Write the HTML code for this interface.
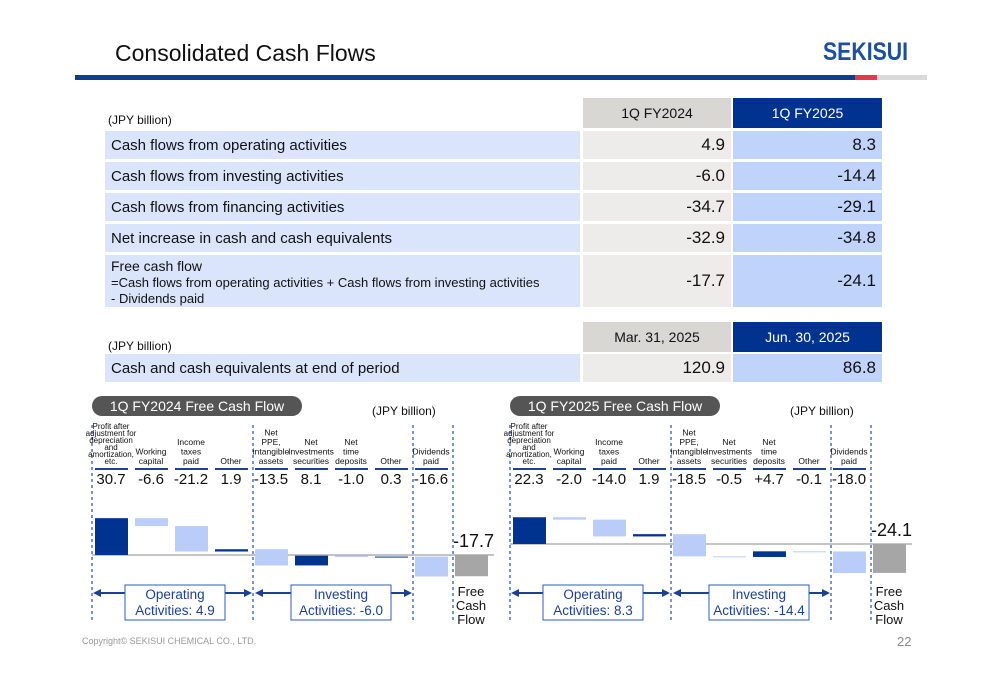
<!DOCTYPE html>
<html><head><meta charset="utf-8">
<style>
*{margin:0;padding:0;box-sizing:border-box}
body{width:1000px;height:685px;background:#fff;font-family:"Liberation Sans",Arial,sans-serif;position:relative;overflow:hidden;color:#111}
.abs{position:absolute}
.lbl{position:absolute;left:105px;width:475px;background:#dae4fb;font-size:15px;padding-left:6px;display:flex;align-items:center}
.c1{position:absolute;left:583px;width:148px;background:#edecea;font-size:17px;text-align:right;padding-right:6px;display:flex;align-items:center;justify-content:flex-end}
.c2{position:absolute;left:733px;width:149px;background:#c0d3fb;font-size:17px;padding-right:6px;display:flex;align-items:center;justify-content:flex-end}
.h1{position:absolute;left:583px;width:148px;background:#d9d7d3;font-size:14px;text-align:center;padding-top:7px}
.h2{position:absolute;left:733px;width:149px;background:#003390;color:#fff;font-size:14px;text-align:center;padding-top:7px}
</style></head><body>
<div class="abs" style="left:115px;top:40px;font-size:23px">Consolidated Cash Flows</div>
<div class="abs" style="left:823px;top:38px;font-size:25px;font-weight:bold;color:#1d4f9e;letter-spacing:0px;transform:scaleX(0.85);transform-origin:left">SEKISUI</div>
<div class="abs" style="left:75px;top:75px;width:780px;height:5px;background:#123a8f"></div>
<div class="abs" style="left:855px;top:75px;width:22px;height:5px;background:#e8384f"></div>
<div class="abs" style="left:877px;top:75px;width:50px;height:5px;background:#d9d9d9"></div>

<div class="abs" style="left:108px;top:113px;font-size:12px">(JPY billion)</div>
<div class="h1" style="top:98px;height:30px">1Q FY2024</div>
<div class="h2" style="top:98px;height:30px">1Q FY2025</div>

<div class="lbl" style="top:131px;height:28px">Cash flows from operating activities</div>
<div class="c1" style="top:131px;height:28px">4.9</div>
<div class="c2" style="top:131px;height:28px">8.3</div>
<div class="lbl" style="top:162px;height:28px">Cash flows from investing activities</div>
<div class="c1" style="top:162px;height:28px">-6.0</div>
<div class="c2" style="top:162px;height:28px">-14.4</div>
<div class="lbl" style="top:193px;height:28px">Cash flows from financing activities</div>
<div class="c1" style="top:193px;height:28px">-34.7</div>
<div class="c2" style="top:193px;height:28px">-29.1</div>
<div class="lbl" style="top:224px;height:28px">Net increase in cash and cash equivalents</div>
<div class="c1" style="top:224px;height:28px">-32.9</div>
<div class="c2" style="top:224px;height:28px">-34.8</div>
<div class="lbl" style="top:255px;height:52px;display:block;padding-top:3px;line-height:16px"><span style="font-size:14px">Free cash flow</span><br><span style="font-size:13px">=Cash flows from operating activities + Cash flows from investing activities<br>- Dividends paid</span></div>
<div class="c1" style="top:255px;height:52px">-17.7</div>
<div class="c2" style="top:255px;height:52px">-24.1</div>

<div class="abs" style="left:108px;top:339px;font-size:12px">(JPY billion)</div>
<div class="h1" style="top:322px;height:30px">Mar. 31, 2025</div>
<div class="h2" style="top:322px;height:30px">Jun. 30, 2025</div>
<div class="lbl" style="top:354px;height:28px">Cash and cash equivalents at end of period</div>
<div class="c1" style="top:354px;height:28px">120.9</div>
<div class="c2" style="top:354px;height:28px">86.8</div>

<svg class="abs" style="left:0;top:0" width="1000" height="685" id="charts"></svg>

<div class="abs" style="left:82px;top:636px;font-size:9px;color:#999">Copyright© SEKISUI CHEMICAL CO., LTD.</div>
<div class="abs" style="left:897px;top:634px;font-size:13px;color:#888">22</div>

<script>
const categories = [["Profit after","adjustment for","depreciation","and","amortization,","etc."],["Working","capital"],["Income","taxes","paid"],["Other"],["Net","PPE,","intangible","assets"],["Net","Investments","securities"],["Net","time","deposits"],["Other"],["Dividends","paid"]];
const values2024 = [30.7,-6.6,-21.2,1.9,-13.5,8.1,-1.0,0.3,-16.6];
const values2025 = [22.3,-2.0,-14.0,1.9,-18.5,-0.5,4.7,-0.1,-18.0];
const labels2024 = ["30.7","-6.6","-21.2","1.9","-13.5","8.1","-1.0","0.3","-16.6"];
const labels2025 = ["22.3","-2.0","-14.0","1.9","-18.5","-0.5","+4.7","-0.1","-18.0"];
const fcf2024 = -17.7, fcf2025 = -24.1;
const opTotals = [4.9, 8.3], invTotals = [-6.0, -14.4];
const titles = ["1Q FY2024 Free Cash Flow","1Q FY2025 Free Cash Flow"];

const NS="http://www.w3.org/2000/svg";
const svg=document.getElementById('charts');
function mk(tag,attrs,parent){const e=document.createElementNS(NS,tag);for(const k in attrs)e.setAttribute(k,attrs[k]);(parent||svg).appendChild(e);return e;}

function drawChart(ox,baseY,vals,labs,fcf,op,inv,title,idx){
  const g=mk('g',{});
  
  
  const sc=1.2;
  const y=v=>baseY-v*sc;
  const xb=i=>ox+3+40*i;
  // title pill
  const pill=mk('rect',{x:ox,y:396,width:210,height:20,rx:10,fill:'#555'},g);
  
  
  const tt=mk('text',{x:ox+105,y:411,'text-anchor':'middle','font-size':14,fill:'#fff'},g);tt.textContent=title;
  
  
  const ut=mk('text',{x:ox+280,y:415,'font-size':12,fill:'#111'},g);ut.textContent='(JPY billion)';
  
  
  // dashed lines
  [0,161,321,361].forEach(dx=>{
    const l=mk('line',{x1:ox+dx,x2:ox+dx,y1:425,y2:622,stroke:'#2d5bbf','stroke-width':1.3,'stroke-dasharray':'3,3'},g);
    
    
  });
  // baseline
  const bl=mk('line',{x1:ox,x2:ox+402,y1:baseY,y2:baseY,stroke:'#888','stroke-width':1},g);
  
  
  let cum=0;
  vals.forEach((v,i)=>{
    const x=xb(i);
    // header
    const cat=categories[i];
    const n=cat.length;
    const fs=n>=5?8:8.5;
    const lh=n>=5?7:9.5;
    cat.forEach((w,j)=>{
      const t=mk('text',{x:x+16,y:464-(n-1-j)*lh,'text-anchor':'middle','font-size':fs,fill:'#111'},g);t.textContent=w;
    });
    const ul=mk('line',{x1:x,x2:x+33,y1:469,y2:469,stroke:'#1d3f94','stroke-width':2},g);
    
    
    const vt=mk('text',{x:x+16,y:484,'text-anchor':'middle','font-size':15,fill:'#111'},g);vt.textContent=labs[i];
    
    
    const a=cum,b=cum+v;cum=b;
    const top=Math.min(y(a),y(b)),h=Math.max(Math.abs(y(a)-y(b)),1);
    const r=mk('rect',{x:x,y:top,width:33,height:h,fill:v>=0?'#003390':'#b9cdf8'},g);
    
    
  });
  // FCF bar
  const fx=xb(9);
  const fr=mk('rect',{x:fx,y:Math.min(y(0),y(fcf)),width:33,height:Math.abs(y(fcf)-y(0)),fill:'#a6a6a6'},g);
  
  
  const fl=mk('text',{x:fx-2,y:y(0)-8,'font-size':18,fill:'#111'},g);fl.textContent=fcf.toFixed(1);
  
  
  ['Free','Cash','Flow'].forEach((w,j)=>{const t=mk('text',{x:fx+16,y:596+j*14,'text-anchor':'middle','font-size':13,fill:'#111'},g);t.textContent=w;});
  // arrows & boxes
  function arrow(x1,x2,bx,label){
    mk('line',{x1:x1+6,x2:x2-6,y1:593,y2:593,stroke:'#1d3f94','stroke-width':2},g);
    mk('polygon',{points:`${x1},593 ${x1+8},589 ${x1+8},597`,fill:'#1d3f94'},g);
    mk('polygon',{points:`${x2},593 ${x2-8},589 ${x2-8},597`,fill:'#1d3f94'},g);
    const br=mk('rect',{x:bx,y:585,width:100,height:35,fill:'#fff',stroke:'#2d5bbf','stroke-width':1},g);
    
    
    label.forEach((w,j)=>{const t=mk('text',{x:bx+50,y:599+j*16,'text-anchor':'middle','font-size':13.5,fill:'#1d3f94'},g);t.textContent=w;});
  }
  arrow(ox+1,ox+160,ox+33,['Operating','Activities: '+op.toFixed(1)]);
  arrow(ox+163,ox+320,ox+199,['Investing','Activities: '+inv.toFixed(1)]);
}
drawChart(92,555,values2024,labels2024,fcf2024,opTotals[0],invTotals[0],titles[0],'2024');
drawChart(510,544,values2025,labels2025,fcf2025,opTotals[1],invTotals[1],titles[1],'2025');
</script>
</body></html>
